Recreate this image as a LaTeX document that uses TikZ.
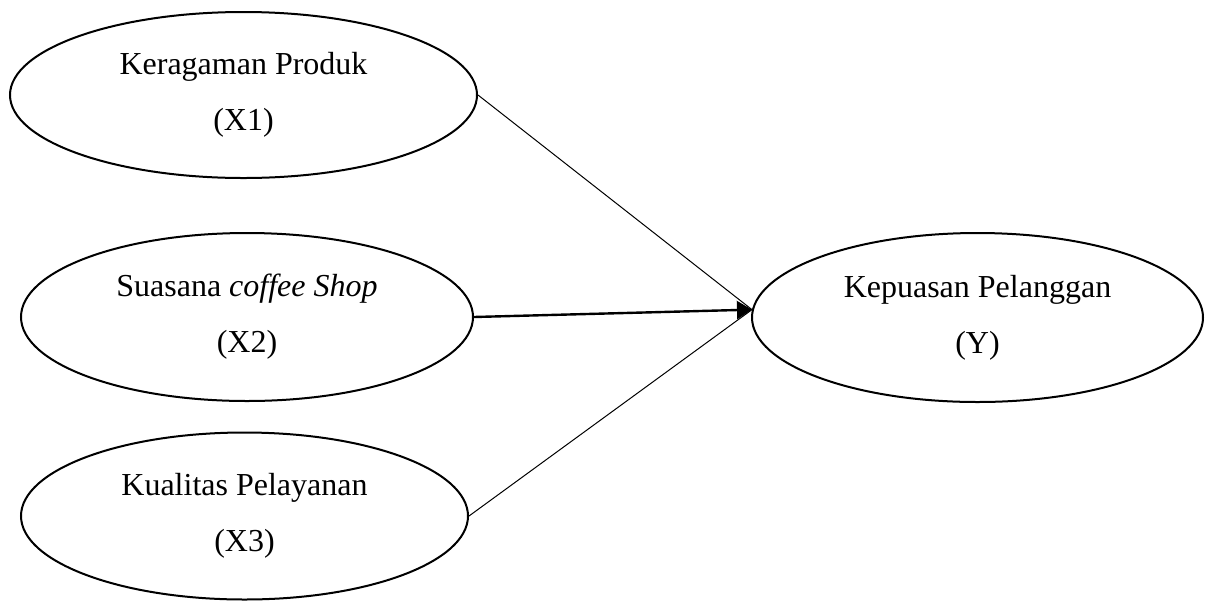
\documentclass[tikz,border=0pt]{standalone}
\usepackage{fontspec}
\setmainfont{Liberation Serif}
\usepackage{tikz}
\usetikzlibrary{shapes.geometric}
\usetikzlibrary{arrows.meta, positioning}

\begin{document}
\begin{tikzpicture}[
      x=0.5pt,
      y=-0.5pt,
      var/.style={
         draw,
         shape=ellipse,
         line width=1pt,
         inner sep=0pt,
         align=center,
         font=\fontsize{16}{28}\selectfont
      },
      path/.style={
         line width=0.5pt
      }
   ]

      \useasboundingbox (0,0) rectangle (1205,601);

      \node[var, minimum width=233.5pt, minimum height=83pt] (x1) at (243.5,95)
         {Keragaman Produk\\(X1)};
      \node[var, minimum width=226pt, minimum height=84pt] (x2) at (247,317)
         {Suasana \textit{coffee Shop}\\(X2)};
      \node[var, minimum width=223.5pt, minimum height=83.5pt] (x3) at (244.5,516)
         {Kualitas Pelayanan\\(X3)};
      \node[var, minimum width=225.5pt, minimum height=84.5pt] (y) at (977.5,317.5)
         {Kepuasan Pelanggan\\(Y)};

      \coordinate (tip) at (y.178);

      \draw[path] (x1.east) -- (tip);
      \draw[path] (x3.east) -- (tip);
      \draw[line width=1.2pt, -{Triangle[length=7.5pt,width=9pt]}] (x2.east) -- (tip);
   \end{tikzpicture}
\end{document}
